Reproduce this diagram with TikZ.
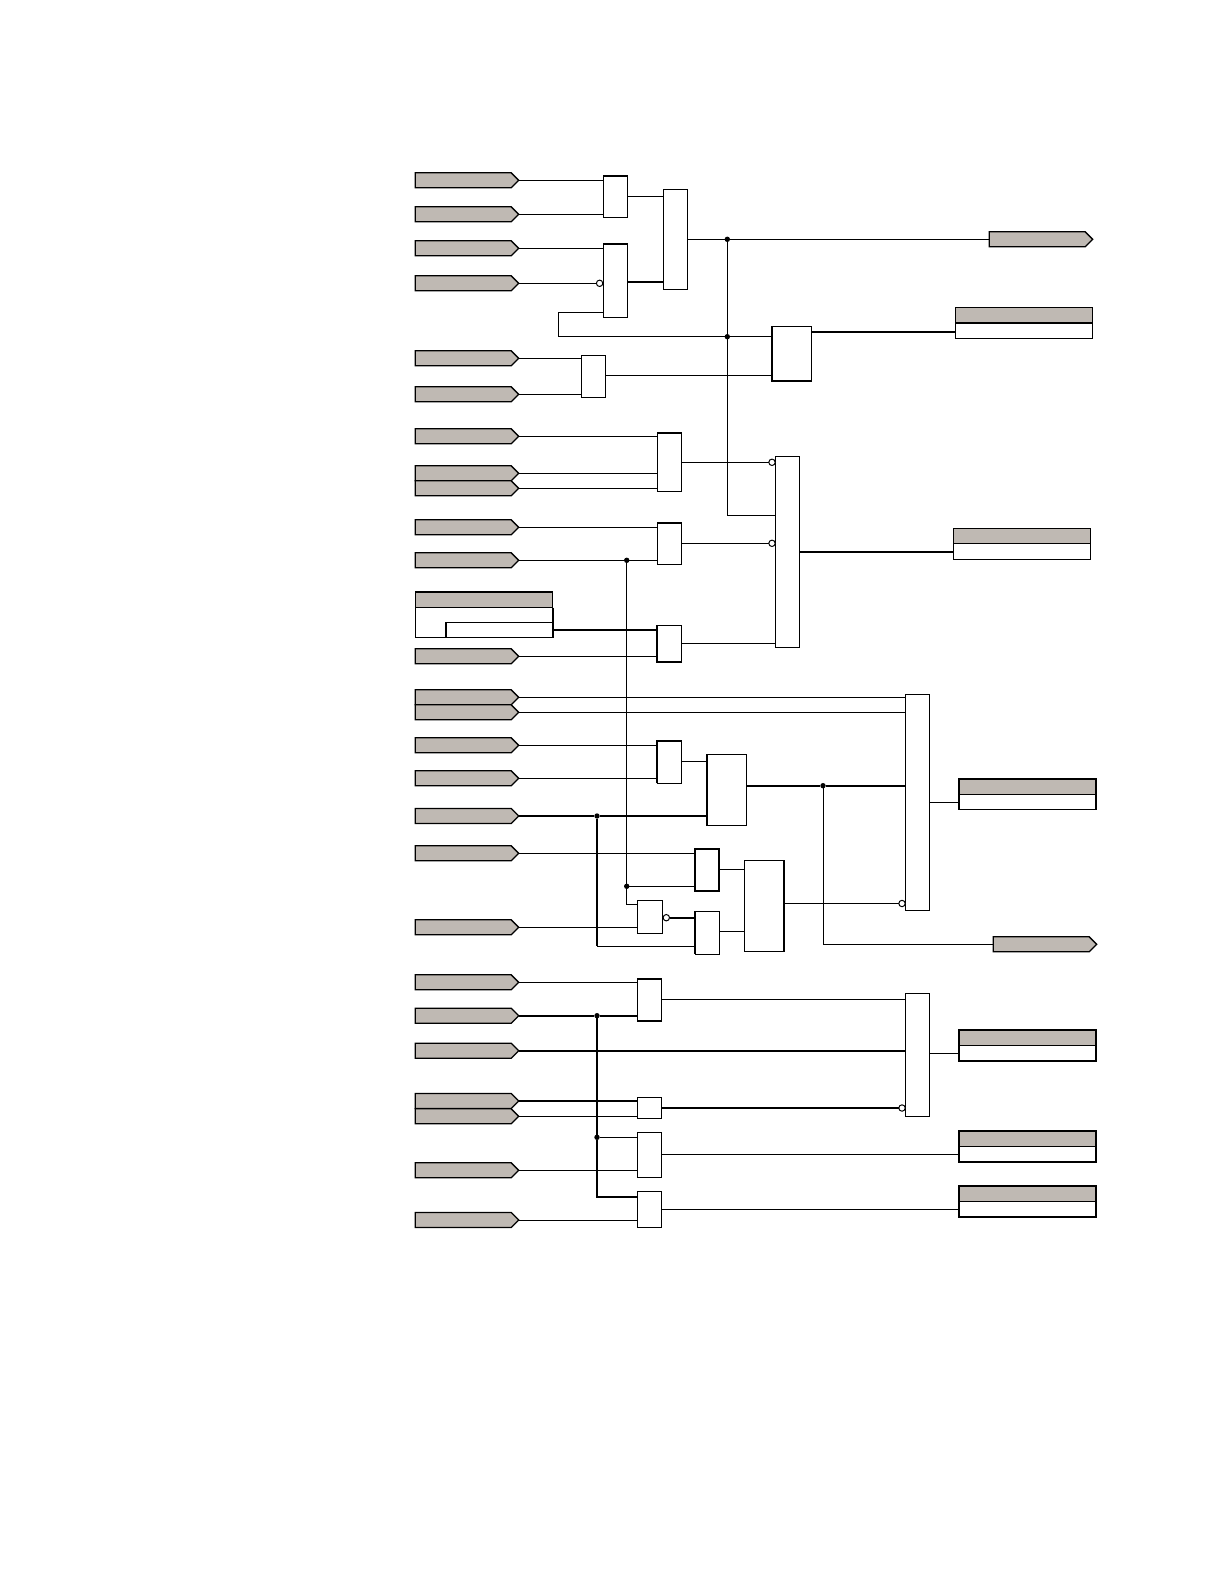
\documentclass[tikz,border=0pt]{standalone}
\usepackage{tikz}
\usetikzlibrary{positioning,shapes.symbols}
\definecolor{taggray}{HTML}{BFB9B3}

\begin{document}
\begin{tikzpicture}[
  x=1pt, y=-1pt,
  line width=1pt,
  tag/.style={draw, line width=1.3pt, signal, signal to=east, signal pointer angle=90, fill=taggray, inner sep=0pt, outer sep=0pt, anchor=west, minimum width=103.4pt, minimum height=15pt},
  gate/.style 2 args={draw, fill=white, inner sep=0pt, outer sep=0pt, anchor=north west, minimum width=#1pt, minimum height=#2pt},
  headbox/.style={draw, fill=taggray, inner sep=0pt, outer sep=0pt, anchor=north west, minimum width=#1pt, minimum height=15.5pt},
  rowbox/.style={draw, fill=white, inner sep=0pt, outer sep=0pt, minimum width=#1pt, minimum height=15.3pt},
  bubble/.style={draw, circle, fill=white, inner sep=0pt, outer sep=0pt, minimum size=6.4pt},
  jdot/.style={circle, fill=black, inner sep=0pt, outer sep=0pt, minimum size=5.4pt},
  wire/.style={line width=1pt},
  heavy/.style={line width=1.9pt}
]
  \useasboundingbox (0,0) rectangle (1224,1584);

  % Input tags
  \node[tag] (inA) at (415.3,180.3) {};
  \node[tag] (inB) at (415.3,214.3) {};
  \node[tag] (inC) at (415.3,248.3) {};
  \node[tag] (inD) at (415.3,283.3) {};
  \node[tag] (inE) at (415.3,358.3) {};
  \node[tag] (inF) at (415.3,394.3) {};
  \node[tag] (inG) at (415.3,436.3) {};
  \node[tag] (inH) at (415.3,473.3) {};
  \node[tag] (inI) at (415.3,488.3) {};
  \node[tag] (inJ) at (415.3,527.3) {};
  \node[tag] (inK) at (415.3,560.3) {};
  \node[tag] (inL) at (415.3,656.3) {};
  \node[tag] (inM) at (415.3,697.3) {};
  \node[tag] (inN) at (415.3,712.3) {};
  \node[tag] (inO) at (415.3,745.3) {};
  \node[tag] (inP) at (415.3,778.3) {};
  \node[tag] (inQ) at (415.3,816) {};
  \node[tag] (inR) at (415.3,853.3) {};
  \node[tag] (inS) at (415.3,927.3) {};
  \node[tag] (inT) at (415.3,982.3) {};
  \node[tag] (inU) at (415.3,1015.7) {};
  \node[tag] (inV) at (415.3,1050.7) {};
  \node[tag] (inW) at (415.3,1101) {};
  \node[tag] (inX) at (415.3,1116.3) {};
  \node[tag] (inY) at (415.3,1170.3) {};
  \node[tag] (inZ) at (415.3,1220) {};

  % Setting frame on the left
  \node[headbox=137.4] (hdSet) at (415.3,592) {};
  \node[rowbox=137.4, minimum height=30.3pt, below=0pt of hdSet] (rowSet) {};
  \node[gate={107}{15}] (subSet) at (445.7,622.3) {};

  % Gates
  \node[gate={24.4}{41.6}] (andA) at (603.3,175.7) {};
  \node[gate={24.4}{73.3}] (andB) at (603.3,244) {};
  \node[gate={24}{100}] (orA) at (663.3,189.3) {};
  \node[gate={24.4}{42}] (andC) at (581.3,355.3) {};
  \node[gate={40}{54.4}] (latchA) at (771.7,326.3) {};
  \node[gate={24}{58.6}] (andD) at (657.7,432.7) {};
  \node[gate={24}{41.6}] (andE) at (657.7,522.7) {};
  \node[gate={24.7}{36.7}] (andF) at (657,625.3) {};
  \node[gate={24}{191}] (orB) at (775.3,456.3) {};
  \node[gate={24.7}{42.3}] (andG) at (657,741) {};
  \node[gate={40}{71.4}] (latchB) at (706.7,754.3) {};
  \node[gate={24.3}{42.6}] (andH) at (695,848.7) {};
  \node[gate={24.3}{43}] (andI) at (695,911.3) {};
  \node[gate={25}{33}] (notA) at (637.3,900.3) {};
  \node[gate={39.7}{91}] (latchC) at (744.3,860.3) {};
  \node[gate={24}{216}] (orC) at (905.3,694.3) {};
  \node[gate={24.4}{42.6}] (andJ) at (637.3,978.7) {};
  \node[gate={24.4}{21}] (andK) at (637.3,1097.3) {};
  \node[gate={24.4}{45}] (andL) at (637.3,1132.3) {};
  \node[gate={24.4}{36.4}] (andM) at (637.3,1191.3) {};
  \node[gate={24.4}{123}] (orD) at (905.3,993.3) {};

  % Outputs
  \node[tag] (outA) at (989.3,239.3) {};
  \node[tag] (outB) at (993.3,944.3) {};
  \node[headbox=137.4] (hdA) at (955.3,307.3) {};
  \node[rowbox=137.4, below=0pt of hdA] (rowA) {};
  \node[headbox=137.4] (hdB) at (953.3,528.3) {};
  \node[rowbox=137.4, below=0pt of hdB] (rowB) {};
  \node[headbox=137.4] (hdC) at (958.7,778.7) {};
  \node[rowbox=137.4, below=0pt of hdC] (rowC) {};
  \node[headbox=137.4] (hdD) at (958.7,1030) {};
  \node[rowbox=137.4, below=0pt of hdD] (rowD) {};
  \node[headbox=137.4] (hdE) at (958.7,1131) {};
  \node[rowbox=137.4, below=0pt of hdE] (rowE) {};
  \node[headbox=137.4] (hdF) at (958.7,1186) {};
  \node[rowbox=137.4, below=0pt of hdF] (rowF) {};

  % Inverting inputs
  \node[bubble] (bubA) at (599.6,283.3) {};
  \node[bubble] (bubB) at (772,462.3) {};
  \node[bubble] (bubC) at (772,543.3) {};
  \node[bubble] (bubD) at (666.3,917.7) {};
  \node[bubble] (bubE) at (902,903.5) {};
  \node[bubble] (bubF) at (902,1108) {};

  % Junctions and bends
  \node[jdot] (jA) at (727.3,239.3) {};
  \node[jdot] (jB) at (727.3,336.7) {};
  \node[jdot] (jC) at (626.7,560.3) {};
  \node[jdot] (jD) at (626.7,886.3) {};
  \node[jdot] (jE) at (597,816) {};
  \node[jdot] (jF) at (823,785.7) {};
  \node[jdot] (jG) at (597,1015.7) {};
  \node[jdot] (jH) at (597,1137.3) {};
  \coordinate (kneeA) at (727.3,515.3);
  \coordinate (kneeB) at (558.3,336.7);
  \coordinate (kneeC) at (626.7,904.3);
  \coordinate (kneeD) at (823,944.3);
  \coordinate (kneeE) at (597,946.3);
  \coordinate (kneeF) at (597,1196.7);

  % First block
  \draw[wire] (inA.east) -- (inA.east -| andA.west);
  \draw[wire] (inB.east) -- (inB.east -| andA.west);
  \draw[wire] (inC.east) -- (inC.east -| andB.west);
  \draw[wire] (inD.east) -- (bubA.west);
  \draw[wire] (andA.east |- 0,196.3) -- (orA.west |- 0,196.3);
  \draw[heavy] (andB.east |- 0,282) -- (orA.west |- 0,282);
  \draw[wire] (orA.east |- jA) -- (jA) -- (outA.west);
  \draw[wire] (jA) -- (jB) -- (kneeA) -- (kneeA -| orB.west);
  \draw[wire] (andB.west |- 0,312.3) -| (kneeB) -- (jB) -- (jB -| latchA.west);
  \draw[wire] (inE.east) -- (inE.east -| andC.west);
  \draw[wire] (inF.east) -- (inF.east -| andC.west);
  \draw[wire] (andC.east |- 0,375.3) -- (latchA.west |- 0,375.3);
  \draw[heavy] (latchA.east |- 0,332) -- (rowA.west |- 0,332);

  % Second block
  \draw[wire] (inG.east) -- (inG.east -| andD.west);
  \draw[wire] (inH.east) -- (inH.east -| andD.west);
  \draw[wire] (inI.east) -- (inI.east -| andD.west);
  \draw[wire] (andD.east |- bubB) -- (bubB.west);
  \draw[wire] (inJ.east) -- (inJ.east -| andE.west);
  \draw[wire] (inK.east) -- (jC) -- (jC -| andE.west);
  \draw[wire] (andE.east |- bubC) -- (bubC.west);
  \draw[heavy] (subSet.east |- 0,630) -- (andF.west |- 0,630);
  \draw[wire] (inL.east) -- (inL.east -| andF.west);
  \draw[wire] (andF.east |- 0,643.3) -- (orB.west |- 0,643.3);
  \draw[heavy] (orB.east |- 0,551.7) -- (rowB.west |- 0,551.7);
  \draw[wire] (jC) -- (jD) -- (kneeC) -- (kneeC -| notA.west);
  \draw[wire] (jD) -- (jD -| andH.west);

  % Third block
  \draw[wire] (inM.east) -- (inM.east -| orC.west);
  \draw[wire] (inN.east) -- (inN.east -| orC.west);
  \draw[wire] (inO.east) -- (inO.east -| andG.west);
  \draw[wire] (inP.east) -- (inP.east -| andG.west);
  \draw[wire] (andG.east |- 0,761) -- (latchB.west |- 0,761);
  \draw[heavy] (inQ.east) -- (jE) -- (jE -| latchB.west);
  \draw[heavy] (latchB.east |- jF) -- (jF) -- (jF -| orC.west);
  \draw[wire] (jF) -- (kneeD) -- (outB.west);
  \draw[wire] (inR.east) -- (inR.east -| andH.west);
  \draw[wire] (inS.east) -- (inS.east -| notA.west);
  \draw[heavy] (bubD.east) -- (bubD.east -| andI.west);
  \draw[heavy] (jE) -- (kneeE);
  \draw[wire] (kneeE) -- (kneeE -| andI.west);
  \draw[wire] (andH.east |- 0,869.3) -- (latchC.west |- 0,869.3);
  \draw[wire] (andI.east |- 0,931) -- (latchC.west |- 0,931);
  \draw[wire] (latchC.east |- bubE) -- (bubE.west);
  \draw[wire] (orC.east |- 0,802.3) -- (rowC.west |- 0,802.3);

  % Fourth block
  \draw[wire] (inT.east) -- (inT.east -| andJ.west);
  \draw[heavy] (inU.east) -- (jG) -- (jG -| andJ.west);
  \draw[heavy] (jG) -- (jH) -- (kneeF) -- (kneeF -| andM.west);
  \draw[heavy] (inV.east) -- (inV.east -| orD.west);
  \draw[heavy] (inW.east) -- (inW.east -| andK.west);
  \draw[wire] (inX.east) -- (inX.east -| andK.west);
  \draw[wire] (jH) -- (jH -| andL.west);
  \draw[wire] (inY.east) -- (inY.east -| andL.west);
  \draw[wire] (inZ.east) -- (inZ.east -| andM.west);
  \draw[wire] (andJ.east |- 0,999.3) -- (orD.west |- 0,999.3);
  \draw[heavy] (andK.east |- bubF) -- (bubF.west);
  \draw[wire] (orD.east |- 0,1053.3) -- (rowD.west |- 0,1053.3);
  \draw[wire] (andL.east |- 0,1154.3) -- (rowE.west |- 0,1154.3);
  \draw[wire] (andM.east |- 0,1209.3) -- (rowF.west |- 0,1209.3);

  % Heavier edges
  \draw[heavy] (andA.north west) -- (andA.north east);
  \draw[heavy] (andB.north west) -- (andB.north east);
  \draw[heavy] (latchA.north west) -- (latchA.south west) -- (latchA.south east);
  \draw[heavy] (andD.north west) -- (andD.north east);
  \draw[heavy] (andE.north west) -- (andE.north east);
  \draw[heavy] (andF.north west) -- (andF.south west) -- (andF.south east);
  \draw[heavy] (hdSet.north west) -- (hdSet.north east);
  \draw[heavy] (rowSet.north east) -- (rowSet.south east);
  \draw[heavy] (subSet.north west) -- (subSet.south west);
  \draw[heavy] (hdA.south west) -- (hdA.south east);
  \draw[heavy] (andG.south west) -- (andG.north west) -- (andG.north east);
  \draw[heavy] (latchB.north west) -- (latchB.south west);
  \draw[heavy] (andH.north west) rectangle (andH.south east);
  \draw[heavy] (andI.north west) -- (andI.south west);
  \draw[heavy] (latchC.north east) -- (latchC.south east);
  \draw[heavy] (andJ.south east) -- (andJ.south west);
  \draw[heavy] (andJ.north west) -- (andJ.north east);
  \draw[heavy] (hdC.north west) rectangle (rowC.south east);
  \draw[heavy] (hdD.north west) -- (hdD.north east) -- (rowD.south east) -- (rowD.south west) -- cycle;
  \draw[heavy] (hdE.north west) rectangle (rowE.south east);
  \draw[heavy] (hdF.north west) rectangle (rowF.south east);
\end{tikzpicture}
\end{document}
